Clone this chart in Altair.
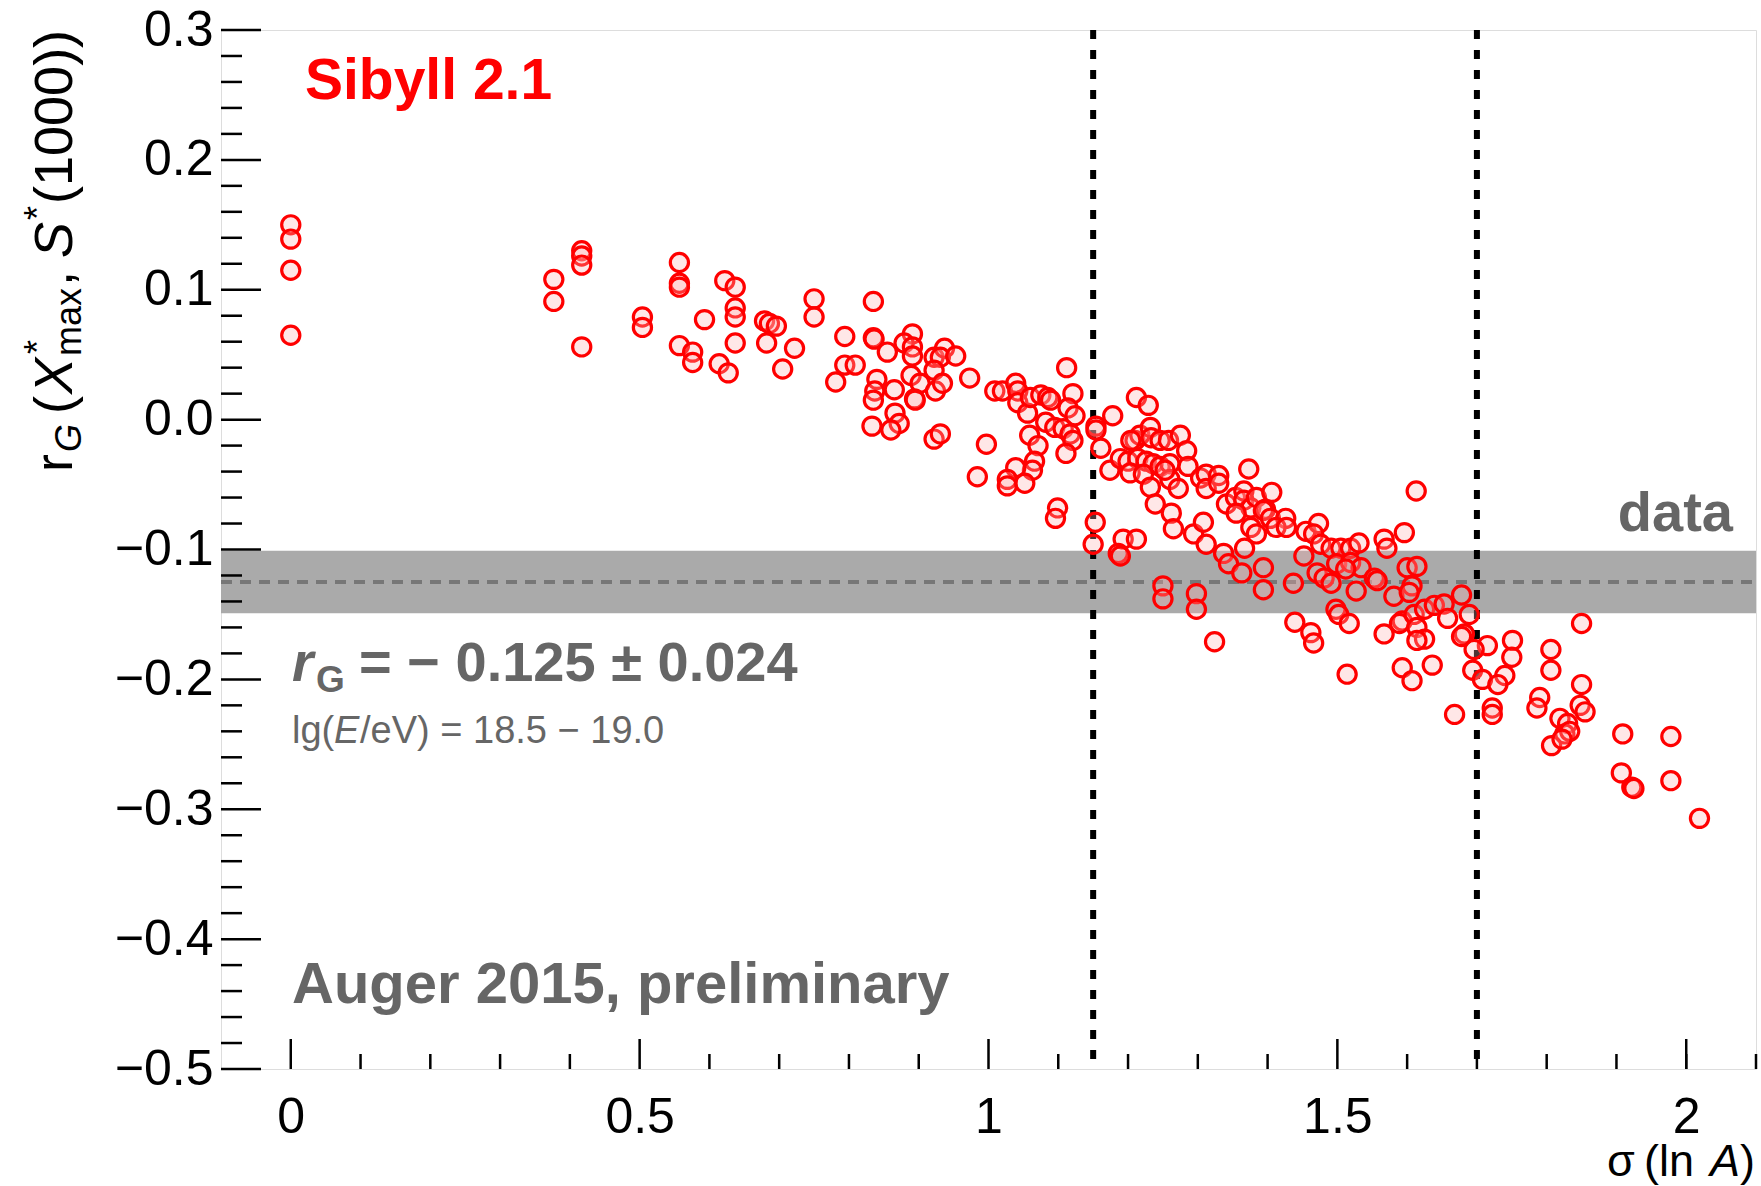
import altair as alt
import pandas as pd

FONT = "Liberation Sans"

# ---------------- data ----------------
sigma_lnA = [
    0.0, 0.0, 0.0, 0.0,
    0.377, 0.377, 0.417, 0.417, 0.417, 0.417, 0.504, 0.504,
    0.557, 0.557, 0.557, 0.557, 0.576, 0.576, 0.593,
    0.622, 0.637, 0.637, 0.637, 0.637, 0.614, 0.627,
    0.679, 0.686, 0.696, 0.682, 0.722, 0.705,
    0.750, 0.750, 0.794, 0.835, 0.835, 0.836,
    0.855, 0.891, 0.879, 0.891, 0.891, 0.794, 0.809, 0.781,
    0.840, 0.837, 0.835, 0.865, 0.866, 0.872, 0.860, 0.833,
    0.889, 0.902, 0.894, 0.895,
    0.922, 0.937, 0.931, 0.922, 0.924, 0.934, 0.922, 0.931,
    # 0.95 - 1.16
    0.953, 0.973, 0.997, 0.984, 1.009, 1.020, 1.039, 1.042, 1.042, 1.056,
    1.060, 1.075, 1.085, 1.089, 1.082, 1.095, 1.107, 1.117, 1.059, 1.071,
    1.121, 1.111, 1.066, 1.063, 1.039, 1.027, 1.027, 1.052, 1.099, 1.096,
    1.112, 1.121, 1.114, 1.124, 1.154, 1.154, 1.153, 1.150, 1.161,
    # 1.17 - 1.31
    1.178, 1.174, 1.189, 1.200, 1.212, 1.229, 1.210, 1.217, 1.232, 1.233,
    1.246, 1.258, 1.275, 1.284, 1.214, 1.226, 1.236, 1.246, 1.260, 1.286,
    1.203, 1.222, 1.232, 1.239, 1.260, 1.272, 1.262, 1.265, 1.304, 1.193,
    1.212, 1.186, 1.189, 1.250, 1.250, 1.298, 1.298, 1.324, 1.294, 1.308,
    1.253, 1.204,
    # 1.31 - 1.47
    1.312, 1.312, 1.330, 1.330, 1.373, 1.341, 1.354, 1.366, 1.366, 1.376,
    1.384, 1.397, 1.406, 1.355, 1.376, 1.384, 1.394, 1.404, 1.426, 1.412,
    1.427, 1.312, 1.337, 1.344, 1.363, 1.367, 1.394, 1.394, 1.437, 1.439,
    1.462, 1.466,
    # 1.45 - 1.67
    1.455, 1.473, 1.466, 1.476, 1.491, 1.505, 1.519, 1.531, 1.567, 1.571,
    1.596, 1.613, 1.452, 1.471, 1.481, 1.491, 1.499, 1.519, 1.534, 1.527,
    1.512, 1.553, 1.557, 1.581, 1.600, 1.614, 1.607, 1.603, 1.498, 1.502,
    1.517, 1.567, 1.593, 1.589, 1.610, 1.614, 1.625, 1.625, 1.614, 1.639,
    1.653, 1.658, 1.514, 1.636, 1.668, 1.593, 1.607,
    # > 1.67
    1.678, 1.689, 1.682, 1.678, 1.715, 1.751, 1.696, 1.750, 1.694, 1.708,
    1.740, 1.730, 1.722, 1.722, 1.850, 1.806, 1.806, 1.850, 1.790, 1.786,
    1.848, 1.855, 1.819, 1.830, 1.826, 1.833, 1.807, 1.822, 1.909, 1.978,
    1.907, 1.922, 1.925, 1.978, 2.019,
]

r_G = [
    0.150, 0.139, 0.115, 0.065,
    0.108, 0.091, 0.130, 0.126, 0.119, 0.056, 0.079, 0.071,
    0.121, 0.105, 0.102, 0.057, 0.052, 0.044, 0.077,
    0.107, 0.102, 0.086, 0.079, 0.059, 0.043, 0.036,
    0.076, 0.074, 0.072, 0.059, 0.055, 0.039,
    0.093, 0.079, 0.064, 0.091, 0.063, 0.062,
    0.052, 0.066, 0.059, 0.056, 0.049, 0.042, 0.042, 0.029,
    0.031, 0.022, 0.015, 0.023, 0.005, -0.003, -0.008, -0.005,
    0.034, 0.028, 0.016, 0.015,
    0.048, 0.055, 0.048, 0.038, 0.022, 0.028, -0.015, -0.011,
    # 0.95 - 1.16
    0.049, 0.032, -0.019, -0.044, 0.022, 0.022, 0.028, 0.022, 0.013, 0.005,
    0.017, 0.019, 0.017, 0.015, -0.002, -0.006, -0.007, -0.011, -0.012, -0.020,
    -0.016, -0.026, -0.032, -0.039, -0.037, -0.046, -0.051, -0.049, -0.068, -0.076,
    0.040, 0.020, 0.009, 0.003, -0.005, -0.008, -0.079, -0.096, -0.022,
    # 1.17 - 1.31
    0.003, -0.039, -0.030, -0.032, 0.017, 0.011, -0.016, -0.012, -0.006, -0.014,
    -0.016, -0.016, -0.012, -0.024, -0.030, -0.032, -0.034, -0.036, -0.034, -0.036,
    -0.041, -0.042, -0.052, -0.065, -0.046, -0.053, -0.072, -0.084, -0.045, -0.092,
    -0.092, -0.103, -0.105, -0.128, -0.138, -0.134, -0.146, -0.171, -0.088, -0.079,
    -0.039, -0.016,
    # 1.31 - 1.47
    -0.042, -0.053, -0.043, -0.049, -0.038, -0.065, -0.060, -0.055, -0.062, -0.068,
    -0.060, -0.069, -0.056, -0.072, -0.083, -0.088, -0.070, -0.076, -0.076, -0.083,
    -0.083, -0.096, -0.103, -0.111, -0.118, -0.099, -0.114, -0.131, -0.126, -0.156,
    -0.164, -0.172,
    # 1.45 - 1.67
    -0.086, -0.080, -0.088, -0.096, -0.099, -0.099, -0.099, -0.095, -0.092, -0.099,
    -0.087, -0.055, -0.105, -0.118, -0.122, -0.126, -0.111, -0.110, -0.114, -0.132,
    -0.115, -0.122, -0.124, -0.136, -0.114, -0.113, -0.128, -0.133, -0.146, -0.150,
    -0.157, -0.165, -0.155, -0.157, -0.150, -0.160, -0.146, -0.169, -0.170, -0.143,
    -0.142, -0.153, -0.196, -0.189, -0.227, -0.191, -0.201,
    # > 1.67
    -0.135, -0.150, -0.165, -0.167, -0.174, -0.170, -0.177, -0.183, -0.193, -0.200,
    -0.197, -0.204, -0.222, -0.227, -0.157, -0.177, -0.193, -0.204, -0.214, -0.222,
    -0.220, -0.225, -0.230, -0.234, -0.242, -0.240, -0.251, -0.246, -0.242, -0.244,
    -0.272, -0.283, -0.284, -0.278, -0.307,
]

x_tick_labels = [0, 0.5, 1, 1.5, 2]
x_minor_ticks = [0.1, 0.2, 0.3, 0.4, 0.6, 0.7, 0.8, 0.9, 1.1, 1.2, 1.3, 1.4,
                 1.6, 1.7, 1.8, 1.9, 2.0, 2.1]
y_tick_labels = [-0.5, -0.4, -0.3, -0.2, -0.1, 0.0, 0.1, 0.2, 0.3]
y_minor_ticks = [-0.48, -0.46, -0.44, -0.42, -0.38, -0.36, -0.34, -0.32,
                 -0.28, -0.26, -0.24, -0.22, -0.18, -0.16, -0.14, -0.12,
                 -0.08, -0.06, -0.04, -0.02, 0.02, 0.04, 0.06, 0.08,
                 0.12, 0.14, 0.16, 0.18, 0.22, 0.24, 0.26, 0.28]
data_rG = -0.125
data_rG_err = 0.024
sigma_limits = [1.15, 1.70]

# ---------------- layout ----------------
W, H = 1535, 1039
PAD = {"left": 221, "top": 30, "right": 5, "bottom": 117}
GRAY = "#666666"

xs = alt.Scale(domain=[-0.1, 2.1], nice=False, zero=False)
ys = alt.Scale(domain=[-0.5, 0.3], nice=False, zero=False)
x_axis = alt.Axis(values=x_tick_labels, format="~g", ticks=False, domain=False,
                  grid=False, labelPadding=23, labelFontSize=50, labelFont=FONT,
                  labelColor="black", title=None, labelFlush=False,
                  labelOverlap=False)
y_axis = alt.Axis(values=y_tick_labels, format=".1f", ticks=False, domain=False,
                  grid=False, labelPadding=8, labelFontSize=50, labelFont=FONT,
                  labelColor="black", title=None, labelFlush=False,
                  labelOverlap=False)


def X(field):
    return alt.X(field, type="quantitative", scale=xs, axis=x_axis)


def Y(field):
    return alt.Y(field, type="quantitative", scale=ys, axis=y_axis)


pts_df = pd.DataFrame({"x": sigma_lnA, "y": r_G})
band_df = pd.DataFrame({"y": [data_rG - data_rG_err], "y2": [data_rG + data_rG_err],
                        "c": [data_rG]})

band = alt.Chart(band_df).mark_rect(color="#aaaaaa").encode(
    y=Y("y"), y2="y2", x=alt.value(0), x2=alt.value(W))
center = alt.Chart(band_df).mark_rule(color="#777777", strokeWidth=4,
                                      strokeDash=[11, 8]).encode(
    y=Y("c"), x=alt.value(0), x2=alt.value(W))
vlines = alt.Chart(pd.DataFrame({"x": sigma_limits})).mark_rule(
    color="black", strokeWidth=6, strokeDash=[9, 11]).encode(x=X("x"))

ytm = alt.Chart(pd.DataFrame({"y": y_tick_labels})).mark_rule(
    color="black", strokeWidth=2.5).encode(y=Y("y"), x=alt.value(0), x2=alt.value(40))
ytn = alt.Chart(pd.DataFrame({"y": y_minor_ticks})).mark_rule(
    color="black", strokeWidth=2.5).encode(y=Y("y"), x=alt.value(0), x2=alt.value(21))
xtm = alt.Chart(pd.DataFrame({"x": x_tick_labels})).mark_rule(
    color="black", strokeWidth=2.5).encode(x=X("x"), y=alt.value(H), y2=alt.value(H - 30))
xtn = alt.Chart(pd.DataFrame({"x": x_minor_ticks})).mark_rule(
    color="black", strokeWidth=2.5).encode(x=X("x"), y=alt.value(H), y2=alt.value(H - 15))

points = alt.Chart(pts_df).mark_point(
    shape="circle", filled=True, fill="#ffb0b0", fillOpacity=0.3,
    stroke="#ff0000", strokeWidth=3.2, strokeOpacity=1, opacity=1, size=330
).encode(x=X("x"), y=Y("y"))


def txt(s, x, y, size, color="black", weight="normal", style="normal",
        align="left", angle=0):
    return alt.Chart(pd.DataFrame({"t": [s]})).mark_text(
        font=FONT, fontSize=size, fontWeight=weight, fontStyle=style,
        color=color, align=align, baseline="alphabetic", angle=angle
    ).encode(text="t:N", x=alt.value(x), y=alt.value(y))


texts = [
    txt("Sibyll 2.1", 84, 69, 57, "#ff0000", "bold"),
    txt("data", 1512, 501, 56, GRAY, "bold", align="right"),
    txt("r", 71, 651, 55, GRAY, "bold", "italic"),
    txt("G", 95, 662, 37, GRAY, "bold"),
    txt("= \u2212 0.125 \u00b1 0.024", 138, 651, 56, GRAY, "bold"),
    txt("lg(", 71, 713, 38, GRAY),
    txt("E", 113, 713, 38, GRAY, style="italic"),
    txt("/eV) = 18.5 \u2212 19.0", 139, 713, 38, GRAY),
    txt("Auger 2015, preliminary", 71, 973, 58, GRAY, "bold"),
    # x title
    txt("\u03c3", 1386, 1146, 45),
    txt("(ln", 1423, 1146, 45),
    txt("A", 1489, 1146, 45, style="italic"),
    txt(")", 1519, 1146, 45),
]

# y title, rotated, reading upward (no leading/trailing spaces; gaps explicit)
bx = -149
BIG, SMALL = 54, 36
ytitle = []
pos = 442
x_star_pos = None
for s, size, style, dx, adv, gap in [
    ("r", BIG, "normal", 0, 0.333, 2),
    ("G", SMALL, "italic", 9, 0.778, 10),
    ("(", BIG, "normal", 0, 0.333, 2),
    ("X", BIG, "italic", 0, 0.667, 2),
    ("max", SMALL, "normal", 9, 1.889, 2),
    (",", BIG, "normal", 0, 0.278, 13),
    ("S", BIG, "italic", 0, 0.667, 2),
    ("*", SMALL, "normal", -22, 0.389, 2),
    ("(1000))", BIG, "normal", 0, 3.223, 0),
]:
    if s == "max":
        x_star_pos = pos
    ytitle.append(txt(s, bx + dx, pos, size, style=style, angle=270))
    pos -= adv * size + gap
# superscript star over X (sits above "max")
ytitle.append(txt("*", bx - 22, x_star_pos - 2, SMALL, angle=270))

chart = alt.layer(band, center, vlines, ytm, ytn, xtm, xtn, points, *texts, *ytitle).properties(
    width=W, height=H, autosize=alt.AutoSizeParams(type="none"), padding=PAD
).configure_view(stroke="black", strokeWidth=2.5).configure(background="white")

chart.save("out.html", embed_options={"renderer": "svg", "actions": False})
